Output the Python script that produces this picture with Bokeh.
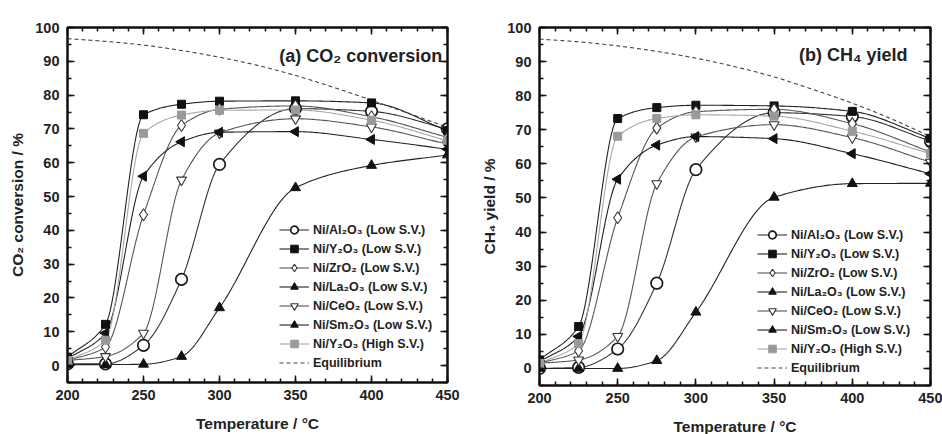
import numpy as np
from bokeh.plotting import figure
from bokeh.layouts import row
from bokeh.models import (Range1d, SingleIntervalTicker, LinearAxis, Legend, LegendItem, Label,
                          CustomJSTickFormatter)
from bokeh.embed import file_html
from bokeh.resources import INLINE

# ---------------- data ----------------
temps = [200, 225, 250, 275, 300, 350, 400, 450]
eq_temps = [200, 225, 250, 275, 300, 325, 350, 375, 400, 425, 450]

series_names = ["Ni/Al₂O₃ (Low S.V.)", "Ni/Y₂O₃ (Low S.V.)", "Ni/ZrO₂ (Low S.V.)",
                "Ni/La₂O₃ (Low S.V.)", "Ni/CeO₂ (Low S.V.)", "Ni/Sm₂O₃ (Low S.V.)",
                "Ni/Y₂O₃ (High S.V.)"]

# (a) CO2 conversion / %
co2_al2o3 = [0.5, 0.5, 6.0, 25.5, 59.5, 76.0, 75.2, 70.0]
co2_y2o3_low = [2.5, 12.2, 74.2, 77.3, 78.2, 78.3, 77.7, 69.5]
co2_zro2 = [1.5, 5.5, 44.6, 71.0, 75.8, 76.8, 73.6, 67.5]
co2_la2o3 = [0.3, 0.3, 0.4, 2.7, 17.1, 52.6, 59.2, 62.3]
co2_ceo2 = [1.5, 2.7, 9.6, 54.9, 68.8, 73.0, 70.6, 65.5]
co2_sm2o3 = [2.0, 9.6, 56.0, 66.2, 69.0, 69.2, 66.9, 64.0]
co2_y2o3_high = [1.5, 7.5, 68.7, 74.1, 75.5, 75.6, 72.6, 66.5]
co2_eq = [96.7, 95.9, 94.8, 93.2, 91.2, 88.8, 85.8, 82.3, 78.5, 74.5, 70.5]

# (b) CH4 yield / %
ch4_al2o3 = [0.0, 0.3, 5.7, 25.0, 58.3, 75.0, 73.9, 66.7]
ch4_y2o3_low = [2.5, 12.3, 73.3, 76.5, 77.2, 77.0, 75.4, 67.5]
ch4_zro2 = [1.5, 5.2, 44.2, 70.5, 75.3, 76.0, 71.8, 63.5]
ch4_la2o3 = [0.0, 0.0, 0.0, 2.3, 16.5, 50.2, 54.2, 54.3]
ch4_ceo2 = [1.5, 2.5, 9.4, 54.2, 67.9, 71.5, 67.7, 60.5]
ch4_sm2o3 = [2.0, 9.4, 55.5, 65.5, 68.0, 67.4, 63.0, 57.1]
ch4_y2o3_high = [1.5, 7.3, 68.1, 73.3, 74.4, 74.0, 69.6, 63.0]
ch4_eq = [96.6, 95.8, 94.6, 93.0, 91.0, 88.5, 85.5, 81.8, 77.8, 73.2, 68.0]

x_ticks_interval = 50
y_ticks_interval = 10

# ---------------- styles ----------------
styles = [
    dict(marker="circle", size=11.5, fill="white", line="#1a1a1a", lc="#333333", lw=1.7, angle=0.0),
    dict(marker="square", size=8, fill="#111111", line="#111111", lc="#222222", lw=1.0, angle=0.0),
    dict(marker="diamond", size=12, fill="white", line="#333333", lc="#555555", lw=1.1, angle=0.0),
    dict(marker="triangle", size=10, fill="#111111", line="#111111", lc="#222222", lw=1.0, angle=0.0),
    dict(marker="inverted_triangle", size=10, fill="white", line="#333333", lc="#555555", lw=1.1, angle=0.0),
    dict(marker="triangle", size=10, fill="#111111", line="#111111", lc="#222222", lw=1.0, angle=1.5707963),
    dict(marker="square", size=8, fill="#9a9a9a", line="#9a9a9a", lc="#a8a8a8", lw=1.0, angle=0.0),
]

FONT = "Liberation Sans"


def pchip(x, y, n=40):
    x = np.asarray(x, float)
    y = np.asarray(y, float)
    h = np.diff(x)
    d = np.diff(y) / h
    m = np.zeros_like(y)
    m[0] = d[0]
    m[-1] = d[-1]
    for k in range(1, len(x) - 1):
        if d[k - 1] * d[k] <= 0:
            m[k] = 0.0
        else:
            w1 = 2 * h[k] + h[k - 1]
            w2 = h[k] + 2 * h[k - 1]
            m[k] = (w1 + w2) / (w1 / d[k - 1] + w2 / d[k])
    xs, ys = [], []
    for k in range(len(x) - 1):
        t = np.linspace(0, 1, n, endpoint=(k == len(x) - 2))
        h00 = 2 * t**3 - 3 * t**2 + 1
        h10 = t**3 - 2 * t**2 + t
        h01 = -2 * t**3 + 3 * t**2
        h11 = t**3 - t**2
        xs.append(x[k] + t * h[k])
        ys.append(h00 * y[k] + h10 * h[k] * m[k] + h01 * y[k + 1] + h11 * h[k] * m[k + 1])
    return np.concatenate(xs), np.concatenate(ys)


def make_panel(series, eq, ylabel, title, frame_w, frame_h, bl, bt, br, bb,
               title_x, title_y, leg_loc):
    p = figure(frame_width=frame_w, frame_height=frame_h, output_backend="svg",
               toolbar_location=None, x_range=Range1d(200, 450), y_range=Range1d(-5, 100),
               min_border_left=bl, min_border_top=bt, min_border_right=br, min_border_bottom=bb,
               background_fill_color="white", border_fill_color="white")
    p.xgrid.visible = False
    p.ygrid.visible = False
    p.outline_line_color = "#111111"
    p.outline_line_width = 2

    xt = SingleIntervalTicker(interval=x_ticks_interval, num_minor_ticks=5)
    yt = SingleIntervalTicker(interval=y_ticks_interval, num_minor_ticks=2)

    def style_axis(ax, labels=True):
        ax.axis_line_color = "#111111"
        ax.axis_line_width = 2
        ax.major_tick_in = 7
        ax.major_tick_out = 0
        ax.minor_tick_in = 4
        ax.minor_tick_out = 0
        ax.major_tick_line_width = 1.5
        ax.minor_tick_line_width = 1.5
        ax.major_tick_line_color = "#111111"
        ax.minor_tick_line_color = "#111111"
        if labels:
            ax.major_label_text_font = FONT
            ax.major_label_text_font_style = "bold"
            ax.major_label_text_font_size = "14.5px"
            ax.major_label_text_color = "#222222"
            ax.axis_label_text_font = FONT
            ax.axis_label_text_font_style = "bold"
            ax.axis_label_text_font_size = "15.5px"
            ax.axis_label_text_color = "#222222"
        else:
            ax.formatter = CustomJSTickFormatter(code="return '';")
            ax.major_label_standoff = 0

    p.xaxis.ticker = xt
    p.yaxis.ticker = yt
    style_axis(p.xaxis[0])
    style_axis(p.yaxis[0])
    p.xaxis.axis_label = "Temperature / °C"
    p.yaxis.axis_label = ylabel
    p.xaxis.major_label_standoff = 7
    p.xaxis.axis_label_standoff = 12
    p.yaxis.major_label_standoff = 8
    p.yaxis.axis_label_standoff = 6

    ra = LinearAxis(ticker=yt)
    style_axis(ra, labels=False)
    p.add_layout(ra, "right")
    ta = LinearAxis(ticker=xt)
    style_axis(ta, labels=False)
    p.add_layout(ta, "above")

    lines, marks = [], []
    for vals, st in zip(series, styles):
        sx, sy = pchip(temps, vals)
        lines.append(p.line(sx, sy, line_color=st["lc"], line_width=1.1))
    eq_x, eq_y = pchip(eq_temps, eq)
    eq_r = p.line(eq_x, eq_y, line_color="#444444", line_width=1.1, line_dash="4 3")
    for vals, st in zip(series, styles):
        marks.append(p.scatter(temps, vals, marker=st["marker"], size=st["size"],
                               fill_color=st["fill"], line_color=st["line"],
                               line_width=st["lw"], angle=st["angle"], angle_units="rad"))

    items = [LegendItem(label=n, renderers=[l, m]) for n, l, m in zip(series_names, lines, marks)]
    items.append(LegendItem(label="Equilibrium", renderers=[eq_r]))
    leg = Legend(items=items, location=leg_loc, padding=0, margin=0, spacing=0,
                 glyph_width=30, glyph_height=19, label_height=19, label_standoff=4,
                 label_text_font=FONT, label_text_font_style="bold",
                 label_text_font_size="12.5px", label_text_color="#222222",
                 background_fill_alpha=0, border_line_alpha=0)
    p.add_layout(leg, "center")

    p.add_layout(Label(x=title_x, y=title_y, text=title, text_align="right",
                       text_baseline="alphabetic", text_font=FONT, text_font_style="bold",
                       text_font_size="18px", text_color="#222222"))
    return p


p1 = make_panel([co2_al2o3, co2_y2o3_low, co2_zro2, co2_la2o3, co2_ceo2, co2_sm2o3, co2_y2o3_high],
                co2_eq, "CO₂ conversion / %", "(a) CO₂ conversion",
                380, 355, 67, 24, 23, 55, 446.5, 91.7, (212, 10))
p2 = make_panel([ch4_al2o3, ch4_y2o3_low, ch4_zro2, ch4_la2o3, ch4_ceo2, ch4_sm2o3, ch4_y2o3_high],
                ch4_eq, "CH₄ yield / %", "(b) CH₄ yield",
                391, 358, 69, 27, 12, 49, 435.3, 91.8, (218, 8))

layout = row(p1, p2)
open("out.html", "w").write(file_html(layout, INLINE))
